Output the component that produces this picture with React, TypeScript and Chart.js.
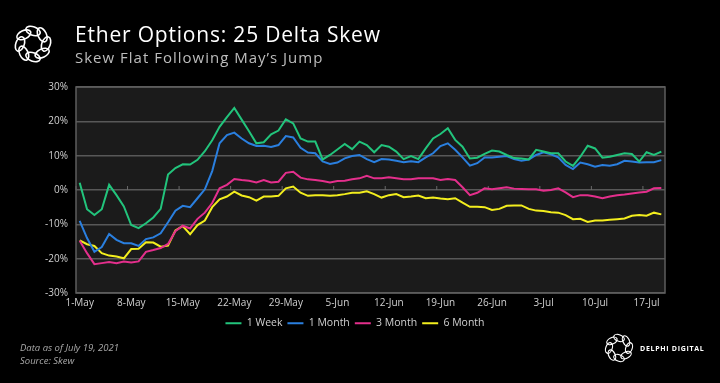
import React, { useEffect, useRef } from "react";
import { Chart, registerables } from "chart.js";

Chart.register(...registerables);

const months: [string, number][] = [["May", 31], ["Jun", 30], ["Jul", 19]];
const dates: string[] = [];
months.forEach(([m, n]) => {
  for (let d = 1; d <= n; d++) dates.push(`${d}-${m}`);
});

const week1: number[] = [
  2.1, -5.6, -7.3, -5.6, 1.5, -1.5, -4.8, -10.2, -11.1, -9.7,
  -8.0, -5.5, 4.5, 6.4, 7.5, 7.4, 8.8, 11.3, 14.5, 18.4,
  21.2, 23.9, 20.5, 17.1, 13.6, 13.9, 16.2, 17.3, 20.6, 19.4,
  15.0, 14.1, 14.1, 8.9, 10.2, 11.8, 13.4, 11.9, 14.1, 13.1,
  11.0, 13.1, 12.6, 11.2, 9.0, 9.9, 9.0, 12.1, 15.0, 16.3,
  18.0, 14.6, 12.6, 9.2, 9.4, 10.5, 11.5, 11.2, 10.2, 9.3,
  9.2, 8.9, 11.7, 11.2, 10.7, 10.7, 8.3, 7.0, 9.7, 12.9,
  12.1, 9.4, 9.7, 10.2, 10.7, 10.5, 8.3, 11.0, 10.2, 11.2,
];
const month1: number[] = [
  -9.0, -14.0, -18.0, -16.6, -12.8, -14.5, -15.5, -15.5, -16.3, -14.3,
  -13.8, -12.6, -9.4, -6.0, -4.6, -5.0, -2.4, 0.2, 5.5, 13.6,
  16.0, 16.7, 15.0, 13.6, 12.8, 12.9, 12.5, 13.1, 15.7, 15.3,
  12.3, 10.9, 10.7, 8.3, 7.6, 8.0, 9.2, 9.9, 10.2, 9.0,
  8.1, 9.0, 8.9, 8.5, 8.1, 8.4, 8.1, 9.5, 10.7, 12.8,
  13.6, 11.7, 9.5, 7.1, 7.8, 9.5, 9.5, 9.7, 9.9, 9.0,
  8.5, 8.9, 10.2, 11.0, 10.4, 9.5, 7.3, 6.1, 8.0, 7.5,
  6.8, 7.3, 7.1, 7.5, 8.5, 8.3, 8.0, 8.1, 8.1, 8.7,
];
const month3: number[] = [
  -14.8, -18.4, -21.6, -21.3, -21.0, -21.3, -20.8, -21.1, -20.8, -18.0,
  -17.5, -16.9, -15.7, -12.0, -10.4, -11.2, -8.4, -6.6, -3.8, 0.5,
  1.5, 3.2, 2.9, 2.7, 2.2, 2.9, 2.2, 2.4, 5.0, 5.3,
  3.6, 3.1, 2.9, 2.6, 2.2, 2.6, 2.7, 3.1, 3.4, 4.1,
  3.4, 3.4, 3.7, 3.4, 3.1, 3.1, 3.4, 3.4, 3.4, 2.9,
  3.2, 2.9, 0.8, -1.5, -0.8, 0.5, 0.2, 0.5, 0.8, 0.4,
  0.3, 0.2, 0.2, -0.2, 0.0, 0.5, -0.7, -2.1, -1.5, -1.5,
  -1.9, -2.4, -1.9, -1.5, -1.3, -1.0, -0.7, -0.5, 0.5, 0.6,
];
const month6: number[] = [
  -14.7, -15.8, -16.3, -18.4, -19.1, -19.4, -19.9, -17.2, -17.1, -15.2,
  -15.3, -16.5, -16.2, -11.8, -10.5, -12.9, -10.2, -8.9, -5.0, -2.7,
  -1.9, -0.5, -1.6, -2.1, -3.1, -1.9, -1.9, -1.7, 0.5, 1.0,
  -0.8, -1.7, -1.5, -1.5, -1.7, -1.5, -1.2, -0.8, -0.8, -0.4,
  -1.2, -2.2, -1.5, -1.2, -2.1, -1.9, -1.6, -2.4, -2.2, -2.5,
  -2.7, -2.4, -3.7, -4.9, -4.9, -5.0, -5.8, -5.5, -4.6, -4.5,
  -4.5, -5.5, -6.0, -6.1, -6.5, -6.6, -7.3, -8.5, -8.4, -9.3,
  -8.9, -8.9, -8.7, -8.5, -8.3, -7.5, -7.3, -7.5, -6.6, -7.1,
];

const seriesNames = ["1 Week", "1 Month", "3 Month", "6 Month"];
const seriesColors = ["#22c47c", "#2a7fdf", "#e42f8c", "#f3ee1e"];
const yTicks = [-30, -20, -10, 0, 10, 20, 30];

const FONT = "'Open Sans', sans-serif";

const plotBg = {
  id: "plotBg",
  beforeDraw(chart: any) {
    const { ctx, chartArea: a } = chart;
    ctx.save();
    ctx.fillStyle = "#1b1b1b";
    ctx.fillRect(a.left, a.top, a.right - a.left, a.bottom - a.top);
    ctx.restore();
  },
  beforeDatasetsDraw(chart: any) {
    const { ctx, scales } = chart;
    const y0 = scales.y.getPixelForValue(0);
    ctx.save();
    ctx.strokeStyle = "#6a6a6a";
    ctx.lineWidth = 1;
    dates.forEach((_, i) => {
      if (i % 7 === 0) {
        const x = scales.x.getPixelForValue(i) - scales.x.width / dates.length / 2;
        ctx.beginPath();
        ctx.moveTo(x, y0);
        ctx.lineTo(x, y0 - 4);
        ctx.stroke();
      }
    });
    ctx.restore();
  },
  afterDatasetsDraw(chart: any) {
    const { ctx, chartArea: a } = chart;
    ctx.save();
    ctx.strokeStyle = "#5e5e5e";
    ctx.lineWidth = 1.5;
    ctx.strokeRect(a.left, a.top, a.right - a.left, a.bottom - a.top);
    ctx.restore();
  },
};

function Logo({ cx, cy, r, rx, ry, sw }: { cx: number; cy: number; r: number; rx: number; ry: number; sw: number }) {
  const items = [];
  for (let k = 0; k < 8; k++) {
    const ang = (k * 45 * Math.PI) / 180;
    const x = cx + r * Math.cos(ang);
    const y = cy + r * Math.sin(ang);
    const rot = k * 45 + 90 + 20;
    items.push(
      <ellipse key={k} cx={x} cy={y} rx={rx} ry={ry} transform={`rotate(${rot} ${x} ${y})`} fill="none" stroke="#fff" strokeWidth={sw} />
    );
  }
  return <>{items}</>;
}

export default function App() {
  const ref = useRef<HTMLCanvasElement>(null);
  useEffect(() => {
    if (!ref.current) return;
    const datasets = [week1, month1, month3, month6].map((d, i) => ({
      label: seriesNames[i],
      data: d,
      borderColor: seriesColors[i],
      backgroundColor: seriesColors[i],
      borderWidth: 2,
      pointRadius: 0,
      tension: 0,
      fill: false,
    }));
    const chart = new Chart(ref.current, {
      type: "line",
      data: { labels: dates, datasets },
      options: {
        animation: false,
        responsive: false,
        layout: { padding: { top: 87, left: 45, right: 55, bottom: 44.5 } },
        plugins: {
          legend: {
            position: "bottom",
            labels: {
              usePointStyle: true,
              pointStyle: "line",
              pointStyleWidth: 16,
              color: "#d0d0d0",
              font: { family: FONT, size: 10.5 },
              padding: 5,
            },
          },
          tooltip: { enabled: false },
        },
        scales: {
          x: {
            type: "category",
            offset: true,
            grid: { display: false, drawTicks: false },
            border: { display: false },
            afterFit: (s: any) => { s.height = 20; },
            ticks: {
              autoSkip: false,
              maxRotation: 0,
              padding: 4,
              color: "#d0d0d0",
              font: { family: FONT, size: 10 },
              callback: (_v: any, i: number) => (i % 7 === 0 ? dates[i] : ""),
            },
          },
          y: {
            min: yTicks[0],
            max: yTicks[yTicks.length - 1],
            afterFit: (s: any) => { s.width = 31; },
            afterBuildTicks: (s: any) => { s.ticks = yTicks.map((v) => ({ value: v })); },
            grid: { color: "#585858", lineWidth: 1.5, drawTicks: false },
            border: { display: false },
            ticks: {
              padding: 8,
              color: "#d0d0d0",
              font: { family: FONT, size: 10 },
              callback: (v: any) => `${v}%`,
            },
          },
        },
      },
      plugins: [plotBg],
    } as any);
    return () => chart.destroy();
  }, []);

  return (
    <div style={{ position: "fixed", left: 0, top: 0, width: 720, height: 383, background: "#000", overflow: "hidden" }}>
      <canvas ref={ref} width={720} height={383} style={{ position: "absolute", left: 0, top: 0 }} />
      <svg width={720} height={383} style={{ position: "absolute", left: 0, top: 0, pointerEvents: "none" }}>
        <Logo cx={33} cy={44} r={13} rx={7.5} ry={4.2} sw={1.6} />
        <Logo cx={619} cy={348} r={10} rx={5.5} ry={3.2} sw={1.2} />
      </svg>
      <div style={{ position: "absolute", left: 75, top: 24, fontFamily: FONT, fontSize: 21, lineHeight: "21px", letterSpacing: "0.8px", color: "#fff", whiteSpace: "nowrap" }}>
        Ether Options: 25 Delta Skew
      </div>
      <div style={{ position: "absolute", left: 75, top: 50, fontFamily: FONT, fontSize: 15, lineHeight: "15px", letterSpacing: "1px", color: "#bdbdbd", whiteSpace: "nowrap" }}>
        Skew Flat Following May’s Jump
      </div>
      <div style={{ position: "absolute", left: 20, top: 341, fontFamily: FONT, fontStyle: "italic", fontSize: 9.5, lineHeight: "13px", color: "#a8a8a8", whiteSpace: "nowrap" }}>
        Data as of July 19, 2021
        <br />
        Source: Skew
      </div>
      <div style={{ position: "absolute", left: 640, top: 344, fontFamily: FONT, fontWeight: 700, fontSize: 7, lineHeight: "9px", letterSpacing: "0.7px", color: "#fff", whiteSpace: "nowrap" }}>
        DELPHI DIGITAL
      </div>
    </div>
  );
}
